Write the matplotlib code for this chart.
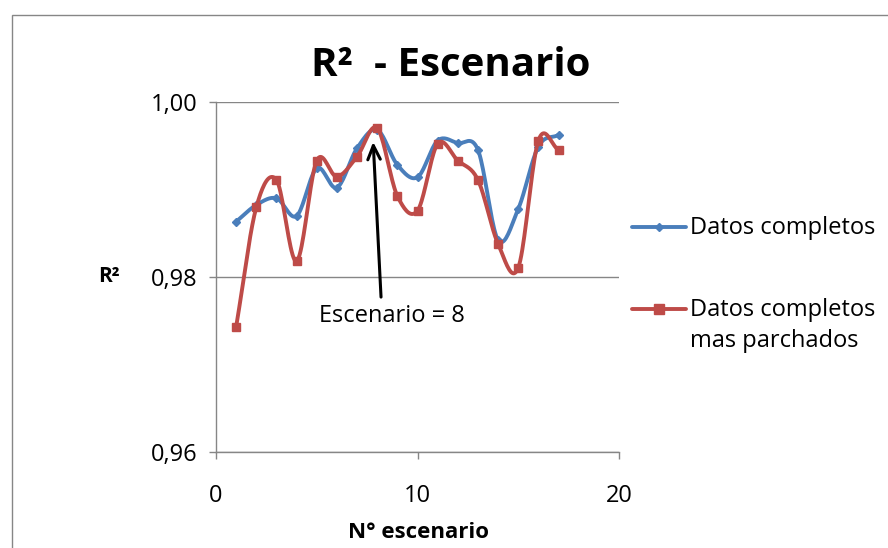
import numpy as np
import matplotlib
matplotlib.use("Agg")
import matplotlib.pyplot as plt
from matplotlib.patches import Rectangle
from matplotlib.lines import Line2D
from matplotlib.ticker import FuncFormatter

plt.rcParams['font.family'] = ['Open Sans', 'DejaVu Sans']

escenarios = list(range(1, 18))
datos_completos = [0.98629, 0.98819, 0.98896, 0.98694, 0.99239, 0.99017, 0.99467, 0.99677,
                   0.99277, 0.99136, 0.99554, 0.99525, 0.99448, 0.98419, 0.98774, 0.99486, 0.99619]
datos_parchados = [0.97429, 0.98793, 0.99105, 0.98179, 0.99326, 0.99143, 0.99371, 0.99696,
                   0.98922, 0.98754, 0.99517, 0.99326, 0.99105, 0.98374, 0.98103, 0.99554, 0.99448]
series_labels = ["Datos completos", "Datos completos\nmas parchados"]
title = "R²  - Escenario"
xlabel = "N° escenario"
ylabel = "R²"
annot_text = "Escenario = 8"


def smooth(x, y, n=20):
    # Catmull-Rom spline (Excel-style smoothed line)
    x = np.asarray(x, float)
    y = np.asarray(y, float)
    px = np.concatenate([[2 * x[0] - x[1]], x, [2 * x[-1] - x[-2]]])
    py = np.concatenate([[2 * y[0] - y[1]], y, [2 * y[-1] - y[-2]]])
    xs, ys = [], []
    t = np.linspace(0, 1, n, endpoint=False)
    for i in range(1, len(px) - 2):
        p0, p1, p2, p3 = px[i - 1], px[i], px[i + 1], px[i + 2]
        q0, q1, q2, q3 = py[i - 1], py[i], py[i + 1], py[i + 2]
        t2, t3 = t * t, t * t * t
        xs.append(0.5 * (2 * p1 + (-p0 + p2) * t + (2 * p0 - 5 * p1 + 4 * p2 - p3) * t2 + (-p0 + 3 * p1 - 3 * p2 + p3) * t3))
        ys.append(0.5 * (2 * q1 + (-q0 + q2) * t + (2 * q0 - 5 * q1 + 4 * q2 - q3) * t2 + (-q0 + 3 * q1 - 3 * q2 + q3) * t3))
    xs.append([x[-1]])
    ys.append([y[-1]])
    return np.concatenate(xs), np.concatenate(ys)


fig = plt.figure(figsize=(8.88, 5.48), dpi=100)
fig.patches.append(Rectangle((12 / 888, -0.1), 1.2, (548 - 15) / 548 + 0.1, transform=fig.transFigure,
                             fill=False, edgecolor='#868686', linewidth=1.0))

ax = fig.add_axes([216 / 888, 1 - 452 / 548, (619 - 216) / 888, (452 - 101.5) / 548])

blue = '#4A7EBB'
red = '#BE4B48'

sx, sy = smooth(escenarios, datos_completos)
ax.plot(sx, sy, color=blue, lw=2.8, solid_capstyle='round', zorder=3)
ax.plot(escenarios, datos_completos, linestyle='none', marker='D', ms=4, color=blue, zorder=3)

sx, sy = smooth(escenarios, datos_parchados)
ax.plot(sx, sy, color=red, lw=2.8, solid_capstyle='round', zorder=4)
ax.plot(escenarios, datos_parchados, linestyle='none', marker='s', ms=6, color=red, zorder=4)

ax.set_xlim(0, 20)
ax.set_ylim(0.96, 1.00)
ax.set_xticks([0, 10, 20])
ax.set_yticks([0.96, 0.98, 1.00])
ax.yaxis.set_major_formatter(FuncFormatter(lambda v, p: f"{v:.2f}".replace('.', ',')))
ax.grid(axis='y', color='#868686', lw=1.0)
ax.set_axisbelow(True)
for s in ['top', 'right']:
    ax.spines[s].set_visible(False)
for s in ['left', 'bottom']:
    ax.spines[s].set_color('#868686')
    ax.spines[s].set_linewidth(1.0)
ax.tick_params(axis='both', colors='#868686', labelcolor='black', labelsize=17, length=5, width=1)
ax.tick_params(axis='y', pad=8)
ax.tick_params(axis='x', pad=18)

# arrow (tail -> tip) and text
ax.annotate('', xy=(7.8, 0.99539), xytext=(8.19, 0.97768),
            arrowprops=dict(arrowstyle='->,head_length=1.0,head_width=0.45', color='black', lw=2.2,
                            shrinkA=0, shrinkB=0))
ax.text(8.74, 0.9755, annot_text, ha='center', va='center', fontsize=17)

fig.text(451 / 888, 1 - 66 / 548, title, ha='center', va='center', fontsize=29, fontweight='bold')
fig.text(109 / 888, 1 - 277 / 548, ylabel, ha='center', va='center', fontsize=15, fontweight='bold')
fig.text(418 / 888, 1 - 533 / 548, xlabel, ha='center', va='center', fontsize=16, fontweight='bold')

# legend (drawn manually to mimic Excel layout)
leg_x0, leg_x1, txt_x = 632 / 888, 686 / 888, 690 / 888
entries = [(227, blue, 'D', 4, series_labels[0]), (309, red, 's', 7, series_labels[1])]
for (yy, col, mk, ms, lab) in entries:
    yf = 1 - yy / 548
    fig.add_artist(Line2D([leg_x0, leg_x1], [yf, yf], transform=fig.transFigure, color=col, lw=2.8,
                          solid_capstyle='round'))
    fig.add_artist(Line2D([(leg_x0 + leg_x1) / 2], [yf], transform=fig.transFigure, color=col,
                          marker=mk, ms=ms, linestyle='none'))
    fig.text(txt_x, 1 - (yy - 11) / 548, lab, ha='left', va='top', fontsize=17,
             linespacing=1.4, transform=fig.transFigure)

fig.savefig('out.png', dpi=100)
